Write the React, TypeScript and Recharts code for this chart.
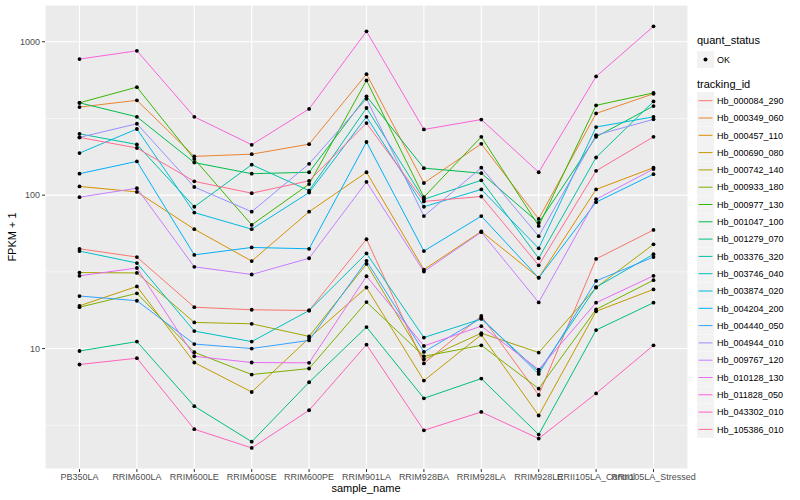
import { LineChart, Line, XAxis, YAxis, CartesianGrid, ReferenceLine } from 'recharts';

// FPKM + 1 per sample (log scale)
const samples = [
  'PB350LA', 'RRIM600LA', 'RRIM600LE', 'RRIM600SE', 'RRIM600PE', 'RRIM901LA',
  'RRIM928BA', 'RRIM928LA', 'RRIM928LE', 'RRII105LA_Control', 'RRII105LA_Stressed',
];

const hb_000084_290 = [44.7, 39.5, 18.6, 17.9, 17.7, 51.6, 8.0, 16.3, 4.98, 38.4, 59.3];
const hb_000349_060 = [375, 415, 179, 185, 215, 615, 120, 216, 70, 341, 458];
const hb_000457_110 = [114, 105, 60, 37.2, 78, 141, 32.7, 58, 29, 109, 151];
const hb_000690_080 = [19.0, 25.4, 8.11, 5.21, 11.7, 25.0, 6.18, 12.3, 3.66, 17.5, 24.3];
const hb_000742_140 = [31.3, 31.1, 14.8, 14.5, 12.0, 35.6, 8.5, 12.6, 9.42, 25, 47.8];
const hb_000933_180 = [18.6, 22.9, 9.46, 6.77, 7.41, 20.1, 8.9, 10.5, 5.48, 18.0, 27.9];
const hb_000977_130 = [400, 506, 172, 64, 118, 560, 97, 240, 63, 385, 464];
const hb_001047_100 = [400, 324, 163, 138, 141, 441, 150, 139, 66, 240, 381];
const hb_001279_070 = [9.64, 11.1, 4.21, 2.47, 6.03, 13.8, 4.74, 6.37, 2.75, 13.2, 19.9];
const hb_003376_320 = [251, 214, 84, 158, 107, 370, 94, 125, 38.8, 176, 408];
const hb_003746_040 = [43.2, 36.1, 13.0, 11.1, 17.7, 41.7, 11.8, 15.6, 7.08, 25.1, 41.2];
const hb_003874_020 = [188, 270, 77, 60, 104, 324, 84, 109, 45, 278, 324];
const hb_004204_200 = [138, 166, 40.8, 45.6, 44.7, 222, 43.2, 73, 28.9, 90, 137];
const hb_004440_050 = [22.0, 20.5, 10.7, 10.0, 11.3, 37.3, 9.5, 15.8, 6.83, 27.6, 39.5];
const hb_004944_010 = [238, 292, 113, 78, 160, 425, 73, 151, 54, 246, 312];
const hb_009767_120 = [97, 111, 34.1, 30.4, 38.8, 122, 31.8, 57.4, 20, 94, 148];
const hb_010128_130 = [29.8, 33.5, 8.91, 8.11, 8.07, 29.6, 10.4, 14.0, 7.29, 19.9, 29.8];
const hb_011828_050 = [771, 873, 324, 213, 365, 1169, 268, 311, 141, 594, 1260];
const hb_043302_010 = [7.87, 8.65, 2.98, 2.25, 3.96, 10.6, 2.93, 3.86, 2.59, 5.1, 10.5];
const hb_105386_010 = [238, 203, 123, 103, 124, 295, 91, 98, 34.9, 144, 240];

const trackingIds = [
  'Hb_000084_290', 'Hb_000349_060', 'Hb_000457_110', 'Hb_000690_080', 'Hb_000742_140',
  'Hb_000933_180', 'Hb_000977_130', 'Hb_001047_100', 'Hb_001279_070', 'Hb_003376_320',
  'Hb_003746_040', 'Hb_003874_020', 'Hb_004204_200', 'Hb_004440_050', 'Hb_004944_010',
  'Hb_009767_120', 'Hb_010128_130', 'Hb_011828_050', 'Hb_043302_010', 'Hb_105386_010',
];

// ggplot2 default hue palette, 20 levels
const hueColors = [
  '#F8766D', '#EA8331', '#D89000', '#C09B00', '#A3A500', '#7CAE00', '#39B600', '#00BB4E',
  '#00BF7D', '#00C1A3', '#00BFC4', '#00BAE0', '#00B0F6', '#35A2FF', '#9590FF', '#C77CFF',
  '#E76BF3', '#FA62DB', '#FF62BC', '#FF6C91',
];

const seriesValues = [
  hb_000084_290, hb_000349_060, hb_000457_110, hb_000690_080, hb_000742_140,
  hb_000933_180, hb_000977_130, hb_001047_100, hb_001279_070, hb_003376_320,
  hb_003746_040, hb_003874_020, hb_004204_200, hb_004440_050, hb_004944_010,
  hb_009767_120, hb_010128_130, hb_011828_050, hb_043302_010, hb_105386_010,
];

const yTicks = [10, 100, 1000];
const minorBreaks = [3.162, 31.62, 316.2];

const data = samples.map((sample, i) => {
  const row: Record<string, string | number> = { sample };
  trackingIds.forEach((id, k) => { row[id] = seriesValues[k][i]; });
  return row;
});

const FONT = '"Liberation Sans", Arial, sans-serif';

function LegendPanel() {
  const step = 17.3;
  return (
    <svg width={110} height={440} style={{ position: 'absolute', left: 690, top: 0 }} fontFamily={FONT}>
      <text x={7} y={44} fontSize={11} fill="#000">quant_status</text>
      <rect x={7} y={51} width={17} height={17} fill="#F2F2F2" />
      <circle cx={15.5} cy={59.5} r={2} fill="#000" />
      <text x={27} y={62.5} fontSize={9} fill="#000">OK</text>

      <text x={7} y={88} fontSize={11} fill="#000">tracking_id</text>
      {trackingIds.map((id, k) => {
        const cy = 100.7 + k * step;
        return (
          <g key={id}>
            <rect x={7} y={cy - 8.5} width={17} height={17} fill="#F2F2F2" />
            <line x1={8.5} x2={22.5} y1={cy} y2={cy} stroke={hueColors[k]} strokeWidth={1} />
            <text x={27} y={cy + 3.2} fontSize={9} fill="#000">{id}</text>
          </g>
        );
      })}
    </svg>
  );
}

export default function App() {
  return (
    <div style={{ position: 'absolute', left: 0, top: 0, width: 800, height: 500, background: '#fff', fontFamily: FONT }}>
      <LineChart width={800} height={500} data={data} margin={{ top: 5, right: 112, bottom: 0, left: 0 }}>
        <CartesianGrid fill="#EBEBEB" fillOpacity={1} stroke="#fff" strokeWidth={1.1} />
        {minorBreaks.map((v) => (
          <ReferenceLine key={v} y={v} stroke="#fff" strokeWidth={0.55} />
        ))}
        <XAxis
          dataKey="sample"
          scale="point"
          padding={{ left: 34.5, right: 34.5 }}
          height={31}
          interval={0}
          axisLine={false}
          tickSize={3}
          tickLine={{ stroke: '#333', strokeWidth: 1 }}
          tick={{ fontSize: 9, fill: '#4D4D4D', fontFamily: FONT }}
        />
        <YAxis
          scale="log"
          domain={[1.64, 1736]}
          allowDataOverflow
          ticks={yTicks}
          width={45}
          axisLine={false}
          tickSize={3}
          tickLine={{ stroke: '#333', strokeWidth: 1 }}
          tick={{ fontSize: 9, fill: '#4D4D4D', fontFamily: FONT }}
        />
        {trackingIds.map((id, k) => (
          <Line key={id} type="linear" dataKey={id} stroke={hueColors[k]} strokeWidth={1}
            dot={false} activeDot={false} isAnimationActive={false} />
        ))}
        {trackingIds.map((id) => (
          <Line key={id + '_pt'} type="linear" dataKey={id} stroke="none" legendType="none"
            dot={{ r: 1.9, fill: '#000', stroke: 'none' }} activeDot={false} isAnimationActive={false} />
        ))}
      </LineChart>

      {/* axis titles */}
      <div style={{ position: 'absolute', left: 366, top: 488, transform: 'translate(-50%, -50%)', fontSize: 11, color: '#000', whiteSpace: 'nowrap' }}>
        sample_name
      </div>
      <div style={{ position: 'absolute', left: 12, top: 237, transform: 'translate(-50%, -50%) rotate(-90deg)', fontSize: 11, color: '#000', whiteSpace: 'nowrap' }}>
        FPKM + 1
      </div>

      <LegendPanel />
    </div>
  );
}
